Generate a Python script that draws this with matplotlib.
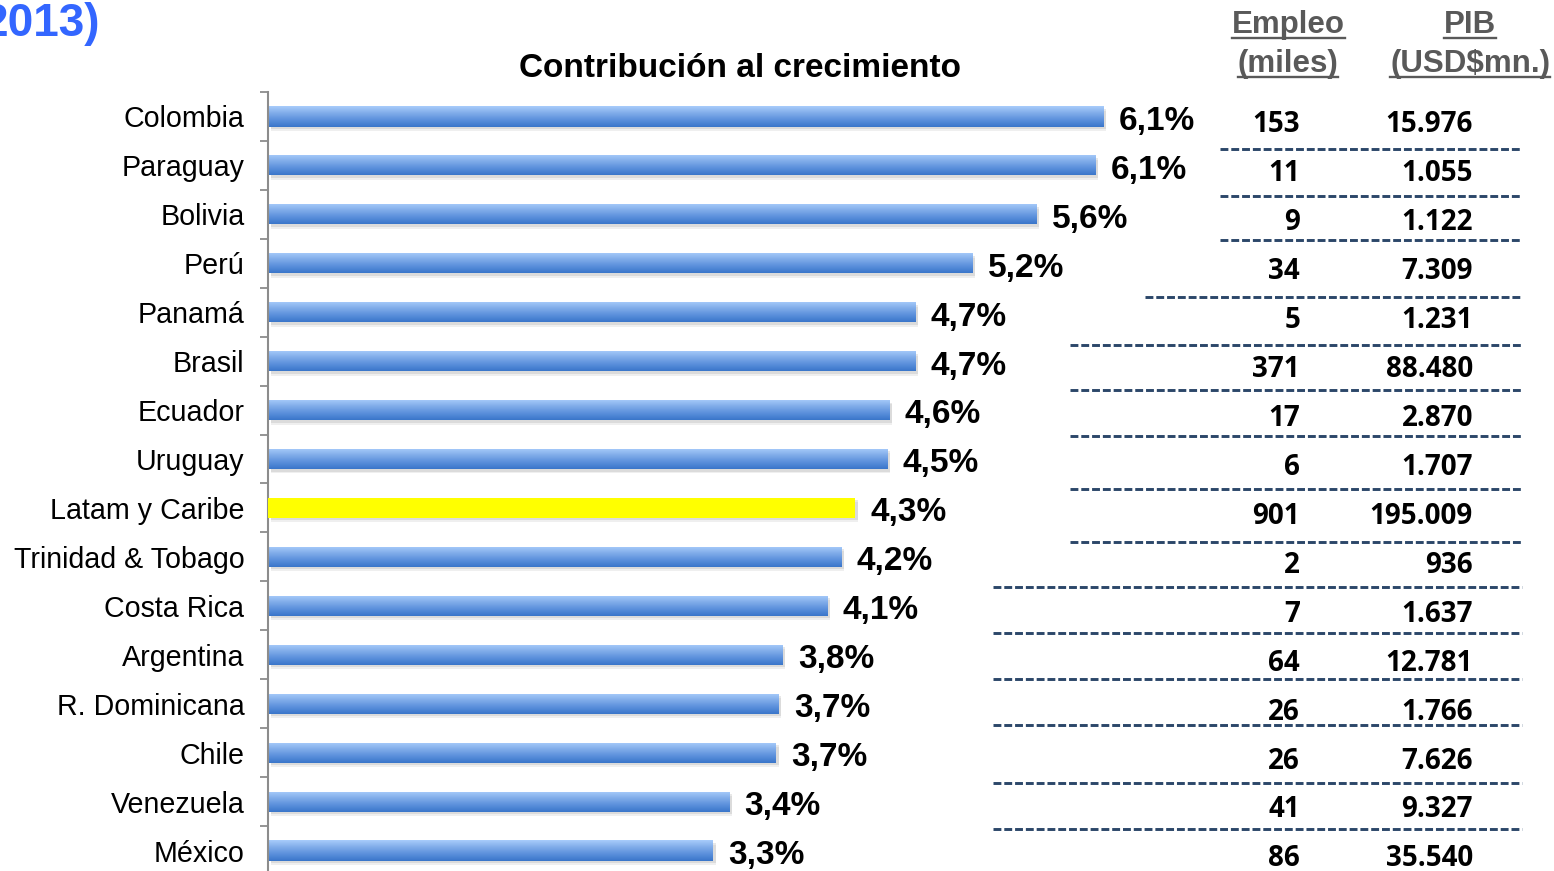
import numpy as np
import matplotlib
matplotlib.use("Agg")
import matplotlib.pyplot as plt
from matplotlib.colors import LinearSegmentedColormap
from matplotlib.transforms import blended_transform_factory
from matplotlib.lines import Line2D

# ---------------- data ----------------
countries = ["Colombia", "Paraguay", "Bolivia", "Perú", "Panamá", "Brasil", "Ecuador",
             "Uruguay", "Latam y Caribe", "Trinidad & Tobago", "Costa Rica", "Argentina",
             "R. Dominicana", "Chile", "Venezuela", "México"]
growth = [6.12, 6.06, 5.63, 5.16, 4.74, 4.74, 4.55, 4.54, 4.30, 4.20, 4.10, 3.77,
          3.74, 3.72, 3.38, 3.26]
growth_labels = ["6,1%", "6,1%", "5,6%", "5,2%", "4,7%", "4,7%", "4,6%", "4,5%", "4,3%",
                 "4,2%", "4,1%", "3,8%", "3,7%", "3,7%", "3,4%", "3,3%"]
empleo = ["153", "11", "9", "34", "5", "371", "17", "6", "901", "2", "7", "64", "26",
          "26", "41", "86"]
pib = ["15.976", "1.055", "1.122", "7.309", "1.231", "88.480", "2.870", "1.707",
       "195.009", "936", "1.637", "12.781", "1.766", "7.626", "9.327", "35.540"]
highlight = "Latam y Caribe"

# ---------------- layout ----------------
W, H = 1554, 871
fig = plt.figure(figsize=(W / 100, H / 100), dpi=100)

def fx(px):
    return px / W

def fy(py):
    return 1 - py / H

ARIAL = ["Liberation Sans", "DejaVu Sans"]
NUMF = ["Open Sans", "DejaVu Sans"]

ax_left, ax_top, ax_bot = 268, 92, 875
ax_right = 268 + 136.5 * 9
ax = fig.add_axes([fx(ax_left), fy(ax_bot), fx(ax_right - ax_left), (ax_bot - ax_top) / H])

n = len(countries)
ypos = np.arange(n)
h = 0.41

cmap = LinearSegmentedColormap.from_list("g", ["#a8ccfb", "#80ace9", "#5b90dc", "#3a76ca"])
grad = np.linspace(0, 1, 64).reshape(-1, 1)

# shadows
for dy, a in [(0.05, 0.18), (0.09, 0.12)]:
    ax.barh(ypos + dy, growth, height=h, left=0.02, color="#808080", alpha=a,
            linewidth=0, zorder=1)

colors = ["#ffff00" if c == highlight else "none" for c in countries]
bars = ax.barh(ypos, growth, height=h, color=colors, linewidth=0, zorder=3)
for c, b, v, y in zip(countries, bars, growth, ypos):
    if c == highlight:
        continue
    im = ax.imshow(grad, extent=(0, v, y + h / 2, y - h / 2), aspect="auto",
                   cmap=cmap, zorder=2, interpolation="bilinear")
    im.set_clip_path(b)

for v, y, lab in zip(growth, ypos, growth_labels):
    ax.annotate(lab, xy=(v, y), xytext=(11, -1), textcoords="offset points",
                ha="left", va="center_baseline", fontsize=24, fontweight="bold",
                family=ARIAL, color="black")

ax.set_xlim(0, 9)
ax.set_ylim(15.5, -0.5)

for s in ["top", "right", "bottom"]:
    ax.spines[s].set_visible(False)
ax.spines["left"].set_color("#8c8c8c")
ax.spines["left"].set_linewidth(1.5)
ax.xaxis.set_visible(False)
ax.set_yticks(ypos)
ax.set_yticklabels(countries, fontsize=20.6, family=ARIAL)
for t in ax.get_yticklabels():
    t.set_verticalalignment("center_baseline")
ax.tick_params(axis="y", which="major", length=0, pad=17)
ax.set_yticks(np.arange(-0.5, n, 1), minor=True)
ax.tick_params(axis="y", which="minor", length=5.5, width=1.3, color="#8c8c8c",
               direction="out")

# ---------------- titles ----------------
fig.text(fx(100), fy(36), "2013)", ha="right", va="baseline", fontsize=33,
         fontweight="bold", color="#3366ff", family=ARIAL)
fig.text(fx(740), fy(77), "Contribución al crecimiento", ha="center", va="baseline",
         fontsize=24, fontweight="bold", color="black", family=ARIAL)

hdr = []
for x, y, s in [(1288, 33, "Empleo"), (1288, 72, "(miles)"),
                (1470, 33, "PIB"), (1470, 72, "(USD$mn.)")]:
    t = fig.text(fx(x), fy(y), s, ha="center", va="baseline", fontsize=22.5,
                 fontweight="bold", color="#595959", family=ARIAL)
    hdr.append(t)

fig.canvas.draw()
r = fig.canvas.get_renderer()
for t in hdr:
    bb = t.get_window_extent(r)
    yline = bb.y0 + 2
    fig.add_artist(Line2D([bb.x0 / W, bb.x1 / W], [yline / H, yline / H],
                          color="#595959", lw=1.7, transform=fig.transFigure))

# ---------------- table ----------------
tr = blended_transform_factory(fig.transFigure, ax.transData)
for y, e, p in zip(ypos, empleo, pib):
    fig.text(fx(1300), y + 0.1, e, ha="right", va="center_baseline", fontsize=20,
             fontweight="bold", family=NUMF, transform=tr)
    fig.text(fx(1473), y + 0.1, p, ha="right", va="center_baseline", fontsize=20,
             fontweight="bold", family=NUMF, transform=tr)

sep_y = [149, 196, 240, 297, 345, 390, 436, 489, 542, 587, 633, 679, 725, 783, 829]
sep_x0 = [1220, 1220, 1220, 1145, 1070, 1070, 1070, 1070, 1070, 993, 993, 993, 993, 993, 993]
for yy, x0 in zip(sep_y, sep_x0):
    fig.add_artist(Line2D([fx(x0), fx(1522)], [fy(yy), fy(yy)], color="#2b4769",
                          lw=2.1, linestyle=(0, (2.7, 1.0)), transform=fig.transFigure))

fig.savefig("out.png", dpi=100)
